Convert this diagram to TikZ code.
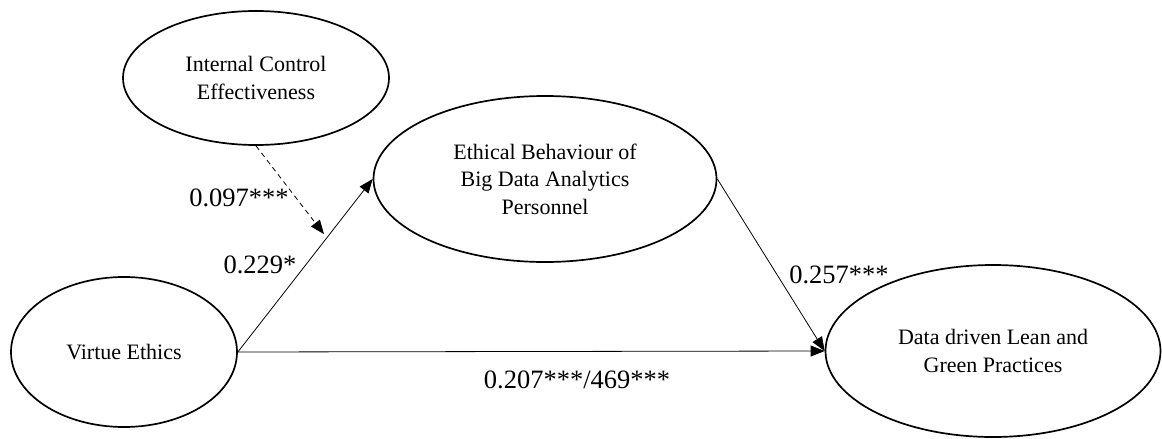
\documentclass[tikz,border=0pt]{standalone}
\usepackage{fontspec}
\setmainfont{Liberation Serif}
\usetikzlibrary{shapes.geometric,arrows.meta,calc}
\tikzset{
  construct/.style={draw, ellipse, line width=1.7pt, inner sep=0pt, align=center,
    font=\fontsize{22}{27.5}\selectfont},
  path/.style={line width=0.8pt, -{Triangle[length=14pt,width=11pt]}},
  modpath/.style={path, dashed, dash pattern=on 5pt off 4pt},
  coef/.style={font=\fontsize{26.5}{30}\selectfont, inner sep=0pt}
}
\begin{document}
\begin{tikzpicture}[x=1pt,y=-1pt]
\useasboundingbox (0,0) rectangle (1162,439);
\node[construct, minimum width=266pt, minimum height=134pt] (ice) at (256,78) {Internal Control\\Effectiveness};
\node[construct, minimum width=343pt, minimum height=166pt] (eb) at (545,179) {Ethical Behaviour of\\Big Data Analytics\\Personnel};
\node[construct, minimum width=226pt, minimum height=150pt] (ve) at (124,352) {Virtue Ethics};
\node[construct, minimum width=335pt, minimum height=172pt] (dl) at (993,351) {Data driven Lean and\\Green Practices};

\draw[path] (ve.east) -- coordinate[pos=0.66] (m) (eb.west);
\draw[path] (ve.east) -- (dl.west);
\draw[path] (eb.east) -- (dl.west);
\draw[modpath] (ice.south) -- ($(ice.south)!0.96!(m)$);

\node[coef] (l1) at (239,198) {0.097***};
\node[coef] (l2) at (260,265) {0.229*};
\node[coef] (l3) at (839,275) {0.257***};
\node[coef] (l4) at (577,380) {0.207***/469***};
\end{tikzpicture}
\end{document}
